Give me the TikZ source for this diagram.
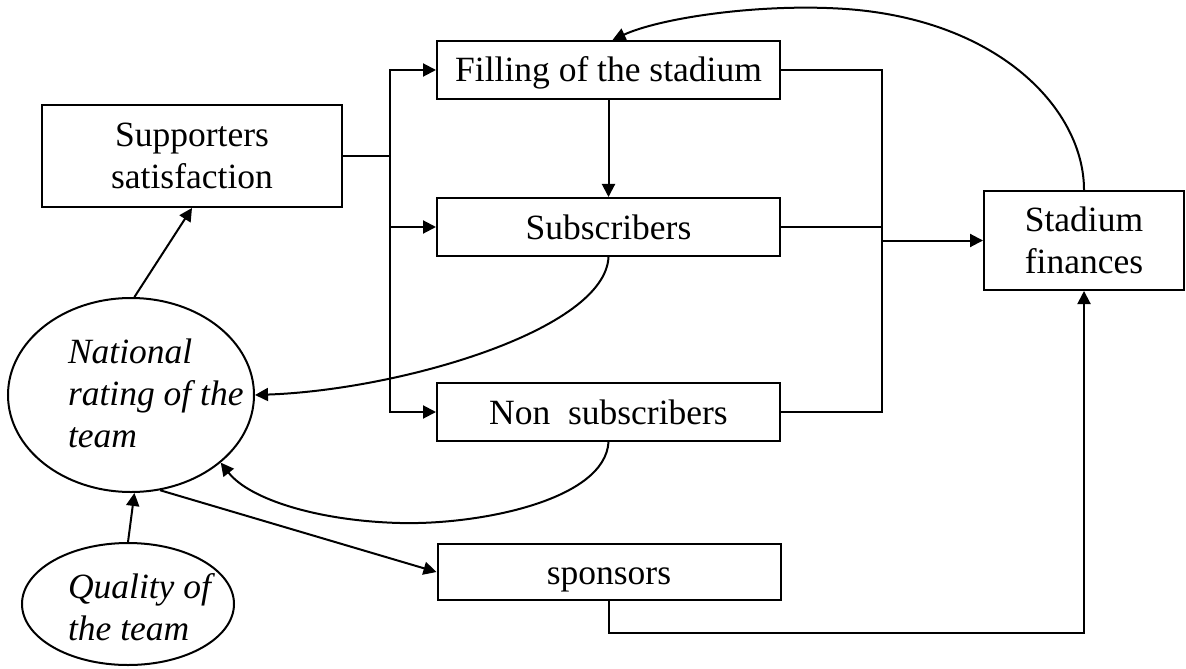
\documentclass[tikz,border=0pt]{standalone}
\usepackage{fontspec}
\setmainfont{Liberation Serif}
\usetikzlibrary{arrows.meta,shapes.geometric,calc}
\begin{document}
\begin{tikzpicture}[x=0.5pt,y=-0.5pt,
  line width=1pt,
  every node/.style={font=\fontsize{17.75}{21}\selectfont},
  box/.style={draw, rectangle, inner sep=0pt, align=center},
  wide/.style={box, minimum width=171.5pt, minimum height=29pt, text height=13pt, text depth=1pt},
  oval/.style={draw, ellipse, inner sep=0pt},
  ovaltext/.style={align=left, inner sep=0pt, font=\fontsize{17.75}{21}\selectfont\itshape},
  arr/.style={-{Triangle[length=6.5pt,width=6.5pt]}}]
\useasboundingbox (0,0) rectangle (1186,668);
% nodes
\node[box, minimum width=150pt, minimum height=51pt] (sup) at (192,156) {Supporters\\satisfaction};
\node[wide] (fill) at (608.5,70) {Filling of the stadium};
\node[wide] (subs) at (608.5,227) {Subscribers};
\node[wide] (non) at (608.5,412) {Non\ \ subscribers};
\node[wide, minimum height=28pt] (spon) at (609,572) {sponsors};
\node[box, minimum width=100pt, minimum height=49.5pt] (fin) at (1084,240.5) {Stadium\\finances};
\node[oval, minimum width=123pt, minimum height=97pt] (nat) at (131,395) {};
\node[ovaltext, anchor=west] (natt) at (67,393) {National\\rating of the\\team};
\node[oval, minimum width=106pt, minimum height=61pt] (qual) at (128,604) {};
\node[ovaltext, anchor=west] (qualt) at (67,607) {Quality of\\the team};
% left bus
\coordinate (bl) at (390,156);
\draw (sup.east) -- (bl);
\draw[arr] (bl) |- (fill.west);
\draw[arr] (bl) |- (subs.west);
\draw[arr] (bl) |- (non.west);
% right bus
\coordinate (br) at (882,240.5);
\draw (fill.east) -| (br);
\draw (subs.east) -| (br);
\draw (non.east) -| (br);
\draw[arr] (br) -- (fin.west);
% filling -> subscribers
\draw[arr] (fill.south) -- (subs.north);
% top curve
\draw[arr] (fin.north) .. controls (1084,110) and (1000,20) .. (846,9)
  .. controls (760,3) and (660,18) .. ([xshift=2pt]fill.north);
% subscribers -> national
\draw[arr] (subs.south) .. controls (605,330) and (400,390) .. (nat.east);
% non subscribers -> national
\draw[arr] (non.south) .. controls (605,500) and (480,525) .. (400,523)
  .. controls (320,521) and (250,500) .. (nat.-37);
% national -> supporters
\draw[arr] (nat.88) -- (sup.south);
% quality -> national
\draw[arr] (qual.north) -- (nat.-88);
% national -> sponsors
\draw[arr] (nat.-73) -- (spon.west);
% sponsors -> finances
\draw[arr] (spon.south) -- ++(0,32) -| (fin.south);
\end{tikzpicture}
\end{document}
